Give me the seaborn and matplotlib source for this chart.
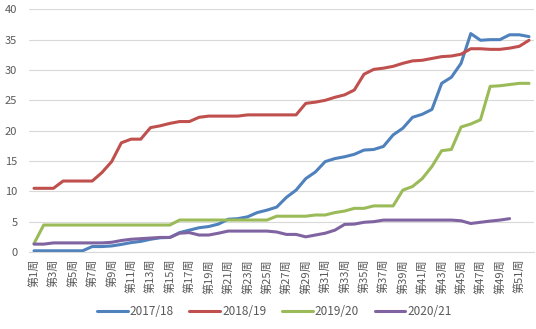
import numpy as np
import pandas as pd
import matplotlib
matplotlib.use("Agg")
import matplotlib.pyplot as plt
import seaborn as sns
from matplotlib.lines import Line2D

weeks = [f"第{i}周" for i in range(1, 53)]
series_names = ["2017/18", "2018/19", "2019/20", "2020/21"]

s2017 = [0.2, 0.2, 0.2, 0.2, 0.2, 0.2,
         0.9, 0.9, 1.0, 1.25, 1.55, 1.75,
         2.1, 2.35, 2.4, 3.2, 3.6, 4.0,
         4.2, 4.6, 5.4, 5.5, 5.8, 6.5,
         6.9, 7.4, 9.0, 10.2, 12.1, 13.2,
         14.9, 15.4, 15.7, 16.1, 16.8, 16.9,
         17.4, 19.3, 20.4, 22.2, 22.7, 23.5,
         27.8, 28.8, 31.1, 36.0, 34.9, 35.0,
         35.0, 35.8, 35.8, 35.5]
s2018 = [10.5, 10.5, 10.5, 11.7, 11.7, 11.7,
         11.7, 13.1, 14.9, 18.0, 18.6, 18.6,
         20.5, 20.8, 21.2, 21.5, 21.5, 22.2,
         22.4, 22.4, 22.4, 22.4, 22.6, 22.6,
         22.6, 22.6, 22.6, 22.6, 24.5, 24.7,
         25.0, 25.5, 25.9, 26.7, 29.3, 30.1,
         30.3, 30.6, 31.1, 31.5, 31.6, 31.9,
         32.2, 32.3, 32.6, 33.5, 33.5, 33.4,
         33.4, 33.6, 33.9, 34.9]
s2019 = [1.4, 4.45, 4.45, 4.45, 4.45, 4.45,
         4.45, 4.45, 4.45, 4.45, 4.45, 4.45,
         4.45, 4.45, 4.45, 5.27, 5.27, 5.27,
         5.27, 5.27, 5.27, 5.27, 5.27, 5.27,
         5.27, 5.9, 5.9, 5.9, 5.9, 6.1,
         6.1, 6.5, 6.75, 7.2, 7.2, 7.6,
         7.6, 7.6, 10.2, 10.8, 12.1, 14.1,
         16.7, 16.9, 20.6, 21.1, 21.8, 27.3,
         27.4, 27.6, 27.8, 27.8]
s2020 = [1.3, 1.3, 1.5, 1.5, 1.5, 1.5,
         1.5, 1.5, 1.6, 1.9, 2.1, 2.2,
         2.3, 2.4, 2.4, 3.1, 3.2, 2.8,
         2.8, 3.1, 3.45, 3.45, 3.45, 3.45,
         3.45, 3.3, 2.9, 2.9, 2.5, 2.8,
         3.1, 3.6, 4.55, 4.6, 4.9, 5.0,
         5.26, 5.26, 5.26, 5.26, 5.26, 5.26,
         5.26, 5.26, 5.15, 4.7, 4.9, 5.1,
         5.26, 5.5, np.nan, np.nan]

colors = ["#4F81BD", "#C0504D", "#9BBB59", "#8064A2"]
yticks = [0, 5, 10, 15, 20, 25, 30, 35, 40]

rows = []
for name, vals in zip(series_names, [s2017, s2018, s2019, s2020]):
    for i, v in enumerate(vals):
        rows.append({"idx": i, "week": weeks[i], "series": name, "value": v})
df = pd.DataFrame(rows).dropna()

sns.set_theme(style="white")
plt.rcParams["font.family"] = ["Noto Sans CJK SC", "DejaVu Sans"]

fig = plt.figure(figsize=(5.36, 3.29), dpi=100)
ax = fig.add_axes([0.0544, 0.234, 0.9416, 0.7377])

sns.lineplot(data=df, x="idx", y="value", hue="series", hue_order=series_names,
             palette=colors, estimator=None, linewidth=2.2, ax=ax, legend=False)

ax.set_xlim(-0.5, len(weeks) - 0.5)
ax.set_ylim(0, 40)
ax.set_yticks(yticks)
ax.set_yticklabels([str(t) for t in yticks], fontsize=8, color="#595959")
ax.set_xticks(list(range(0, len(weeks), 2)))
ax.set_xticklabels(weeks[::2], rotation=90, fontsize=8, color="#595959")
ax.tick_params(axis="x", length=0, pad=5)
ax.tick_params(axis="y", length=0, pad=8.5)
ax.set_xlabel("")
ax.set_ylabel("")
ax.grid(axis="y", color="#D9D9D9", linewidth=0.8)
ax.set_axisbelow(True)
for sp in ["top", "right", "left"]:
    ax.spines[sp].set_visible(False)
ax.spines["bottom"].set_color("#D9D9D9")
ax.spines["bottom"].set_linewidth(0.8)

handles = [Line2D([0], [0], color=c, linewidth=2.2) for c in colors]
fig.legend(handles, series_names, loc="center", bbox_to_anchor=(0.512, 0.052),
           ncol=4, frameon=False, fontsize=8.5, handlelength=2.6,
           handletextpad=0.2, columnspacing=1.3, labelcolor="#595959")

fig.savefig("out.png", dpi=100)
